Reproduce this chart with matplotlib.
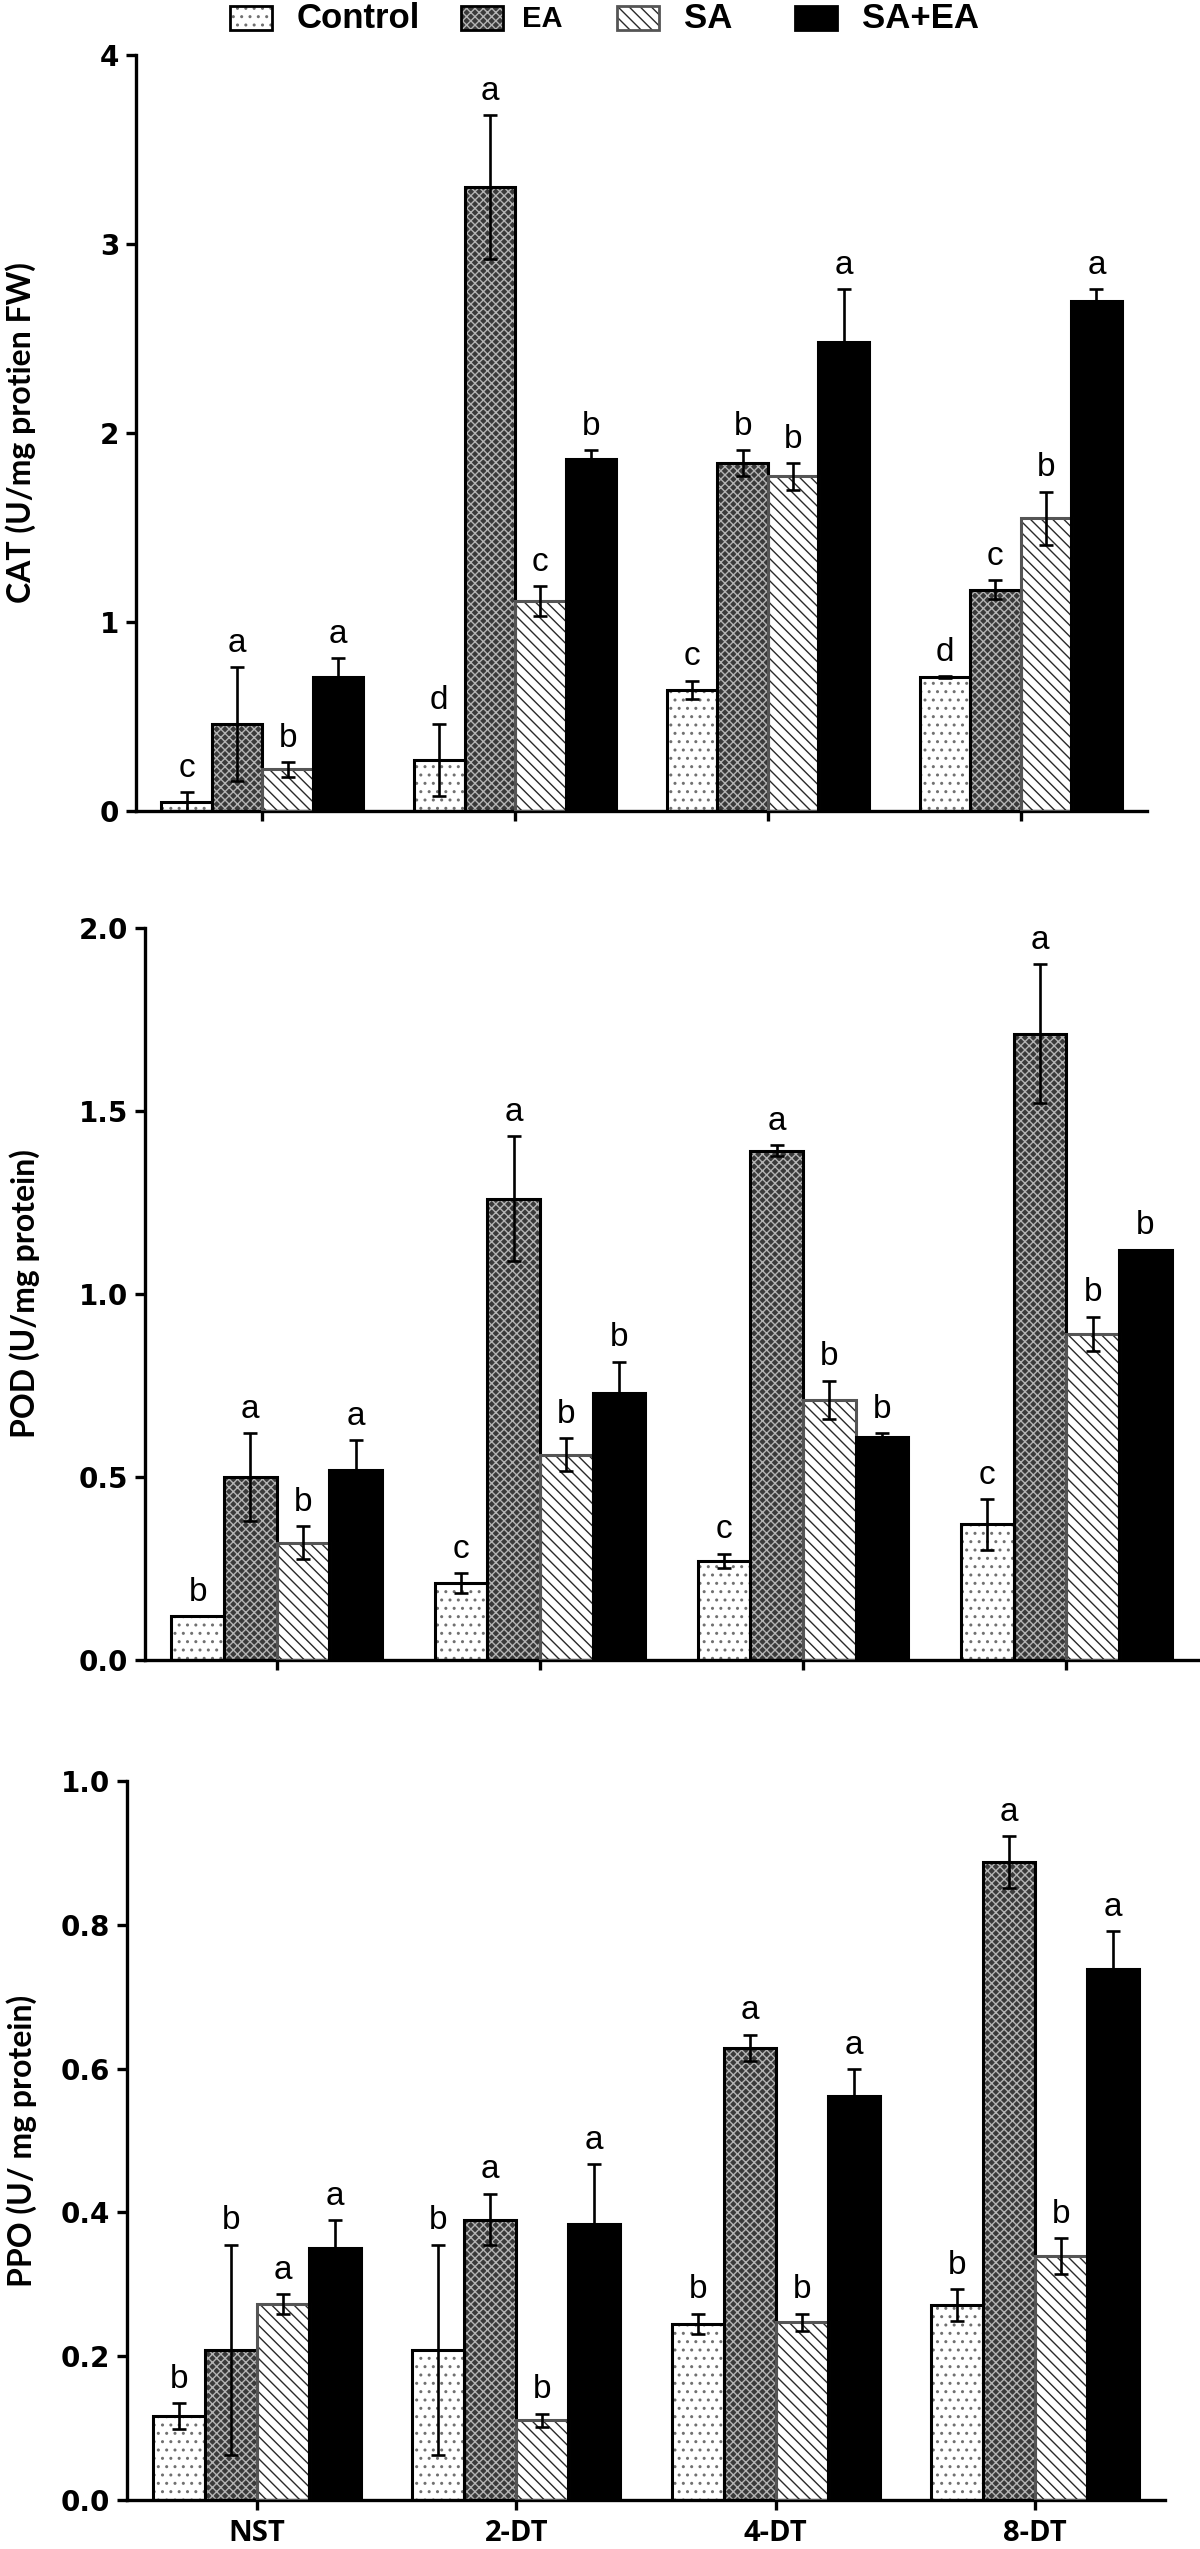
import matplotlib
matplotlib.use("Agg")
import matplotlib.pyplot as plt
from matplotlib.patches import Rectangle
import numpy as np

groups = ["NST", "2-DT", "4-DT", "8-DT"]
treatments = ["Control", "EA", "SA", "SA+EA"]

# rows = treatment (Control, EA, SA, SA+EA), columns = group
cat_mean = [[0.05, 0.27, 0.64, 0.71],
            [0.46, 3.30, 1.84, 1.17],
            [0.22, 1.11, 1.77, 1.55],
            [0.71, 1.86, 2.48, 2.70]]
cat_err = [[0.05, 0.19, 0.05, 0.005],
           [0.30, 0.38, 0.07, 0.05],
           [0.04, 0.08, 0.07, 0.14],
           [0.10, 0.05, 0.28, 0.06]]
cat_letters = [["c", "d", "c", "d"],
               ["a", "a", "b", "c"],
               ["b", "c", "b", "b"],
               ["a", "b", "a", "a"]]

pod_mean = [[0.12, 0.21, 0.27, 0.37],
            [0.50, 1.26, 1.39, 1.71],
            [0.32, 0.56, 0.71, 0.89],
            [0.52, 0.73, 0.61, 1.12]]
pod_err = [[0.0, 0.027, 0.02, 0.07],
           [0.12, 0.17, 0.015, 0.19],
           [0.045, 0.045, 0.053, 0.047],
           [0.08, 0.085, 0.01, 0.0]]
pod_letters = [["b", "c", "c", "c"],
               ["a", "a", "a", "a"],
               ["b", "b", "b", "b"],
               ["a", "b", "b", "b"]]

ppo_mean = [[0.117, 0.209, 0.245, 0.271],
            [0.209, 0.390, 0.629, 0.887],
            [0.272, 0.111, 0.247, 0.339],
            [0.351, 0.384, 0.562, 0.738]]
ppo_err = [[0.018, 0.146, 0.014, 0.022],
           [0.146, 0.036, 0.018, 0.036],
           [0.014, 0.009, 0.012, 0.025],
           [0.038, 0.083, 0.037, 0.053]]
ppo_letters = [["b", "b", "b", "b"],
               ["b", "a", "a", "a"],
               ["a", "b", "b", "b"],
               ["a", "a", "a", "a"]]

# bar looks: face, hatch, hatch colour, border colour
faces = ["white", "#3a3a3a", "white", "black"]
hatches = ["..", "xxxx", "\\\\\\", None]
hatch_cols = ["#707070", "#b4b4b4", "#2a2a2a", "black"]
edges = ["black", "black", "#555555", "black"]

plt.rcParams["hatch.linewidth"] = 1.0

W, H = 1200, 2549
fig = plt.figure(figsize=(W / 100, H / 100), dpi=100)

width = 0.2
offsets = [-0.3, -0.1, 0.1, 0.3]


def draw_panel(ax, means, errs, letters, ymax, yticks, ytlabels, ylabel, label_x, show_x):
    x = np.arange(len(groups))
    for i in range(len(treatments)):
        pos = x + offsets[i]
        ax.bar(pos, means[i], width, color=faces[i], edgecolor=hatch_cols[i],
               hatch=hatches[i], linewidth=0, zorder=2)
        ax.bar(pos, means[i], width, facecolor="none", edgecolor=edges[i],
               linewidth=2.2, zorder=3)
        ax.errorbar(pos, means[i], yerr=errs[i], fmt="none", ecolor="black",
                    elinewidth=1.9, capsize=5, capthick=1.9, zorder=4)
        for xp, m, e, t in zip(pos, means[i], errs[i], letters[i]):
            ax.annotate(t, (xp, m + e), xytext=(0, 6), textcoords="offset points",
                        ha="center", va="bottom", fontsize=24, family="Liberation Sans")
    ax.set_xlim(-0.5, 3.5)
    ax.set_ylim(0, ymax)
    ax.spines[["top", "right"]].set_visible(False)
    for s in ["left", "bottom"]:
        ax.spines[s].set_linewidth(2.4)
    ax.tick_params(direction="out", length=7, width=2.4)
    ax.tick_params(axis="y", pad=5)
    ax.tick_params(axis="x", pad=7)
    ax.set_yticks(yticks, labels=ytlabels, fontsize=20, fontweight="bold", family="DejaVu Sans")
    if show_x:
        ax.set_xticks(x, labels=groups, fontsize=21, fontweight="bold", family="Open Sans")
    else:
        ax.set_xticks(x, labels=[])
    ax.set_ylabel(ylabel, fontsize=23, fontweight="bold", family="Lato")
    ax.yaxis.set_label_coords(label_x, 0.5)


ax1 = fig.add_axes([136 / W, 1 - 811 / H, 1011 / W, 756 / H])
draw_panel(ax1, cat_mean, cat_err, cat_letters, 4, [0, 1, 2, 3, 4],
           ["0", "1", "2", "3", "4"], "CAT (U/mg protien FW)", -0.099, False)

ax2 = fig.add_axes([145 / W, 1 - 1660 / H, 1053 / W, 732.5 / H])
draw_panel(ax2, pod_mean, pod_err, pod_letters, 2.0, [0, 0.5, 1.0, 1.5, 2.0],
           ["0.0", "0.5", "1.0", "1.5", "2.0"], "POD (U/mg protein)", -0.0997, False)

ax3 = fig.add_axes([127 / W, 1 - 2500 / H, 1038 / W, 719 / H])
draw_panel(ax3, ppo_mean, ppo_err, ppo_letters, 1.0, [0, 0.2, 0.4, 0.6, 0.8, 1.0],
           ["0.0", "0.2", "0.4", "0.6", "0.8", "1.0"], "PPO (U/ mg protein)", -0.087, True)

# legend row at the top, drawn by hand
box_left = [230, 461, 617, 795]
text_left = [297, 522, 684, 862]
leg_size = [25, 21, 25, 25]
for i in range(len(treatments)):
    xy = (box_left[i] / W, 1 - 30 / H)
    fig.patches.append(Rectangle(xy, 42 / W, 24 / H, transform=fig.transFigure,
                                 facecolor=faces[i], edgecolor=hatch_cols[i],
                                 hatch=hatches[i], linewidth=0))
    fig.patches.append(Rectangle(xy, 42 / W, 24 / H, transform=fig.transFigure,
                                 facecolor="none", edgecolor=edges[i], linewidth=2))
    fig.text(text_left[i] / W, 1 - 19 / H, treatments[i], fontsize=leg_size[i],
             fontweight="bold", family="Liberation Sans", va="center", ha="left")

fig.savefig("out.png", dpi=100)
